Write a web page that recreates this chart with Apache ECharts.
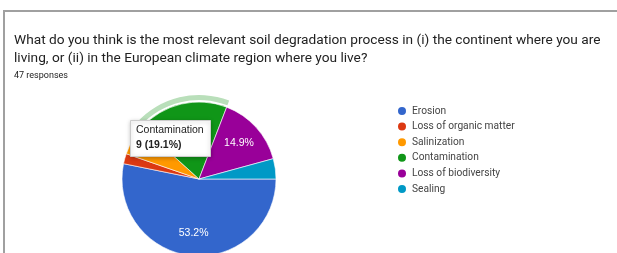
<!DOCTYPE html>
<html>
<head>
<meta charset="utf-8">
<script src="https://cdn.jsdelivr.net/npm/echarts@6/dist/echarts.min.js"></script>
<style>
  html, body { margin: 0; padding: 0; background: #fff; }
  #frame { position: absolute; left: 3px; top: 10px; width: 700px; height: 300px;
           border-top: 2px solid #a0a0a0; border-left: 2px solid #a0a0a0; }
  #main { position: absolute; left: 0; top: 0; width: 617px; height: 253px; }
</style>
</head>
<body>
<div id="frame"></div>
<div id="main"></div>
<script>
var categories = ['Erosion', 'Loss of organic matter', 'Salinization', 'Contamination', 'Loss of biodiversity', 'Sealing'];
var counts = [25, 1, 3, 9, 7, 2];
var colors = ['#3366cc', '#dc3912', '#ff9900', '#109618', '#990099', '#0099c6'];
var highlighted = 'Contamination';

var total = counts.reduce(function (a, b) { return a + b; }, 0);
var hiIdx = categories.indexOf(highlighted);
var hiText = counts[hiIdx] + ' (' + (counts[hiIdx] / total * 100).toFixed(1) + '%)';

var cx = 199, cy = 179, R = 77;

// mid angle of each slice, measured clockwise from 3 o'clock
var midAngles = [];
var acc = 0;
for (var i = 0; i < counts.length; i++) {
    midAngles.push((acc + counts[i] / 2) / total * 2 * Math.PI);
    acc += counts[i];
}

var myChart = echarts.init(document.getElementById('main'));

var pieData = categories.map(function (c, i) {
    var pct = counts[i] / total * 100;
    return {
        name: c,
        value: counts[i],
        itemStyle: { color: colors[i] },
        label: { show: pct >= 10 && c !== highlighted }
    };
});
var haloData = categories.map(function (c, i) {
    return {
        name: c,
        value: counts[i],
        itemStyle: { color: c === highlighted ? '#b9dfba' : 'rgba(0,0,0,0)' }
    };
});

option = {
    backgroundColor: 'transparent',
    animation: false,
    title: {
        text: 'What do you think is the most relevant soil degradation process in (i) the continent where you are\nliving, or (ii) in the European climate region where you live?',
        subtext: total + ' responses',
        left: 9,
        top: 26,
        itemGap: 3,
        textStyle: { fontFamily: 'Roboto', fontSize: 13.7, fontWeight: 'normal', color: '#222', lineHeight: 18.5 },
        subtextStyle: { fontFamily: 'Roboto', fontSize: 9, color: '#222' }
    },
    legend: {
        orient: 'vertical',
        left: 391,
        top: 100,
        itemWidth: 10,
        itemHeight: 10,
        itemGap: 3.6,
        itemTextGap: 5,
        icon: 'circle',
        data: categories,
        textStyle: { fontFamily: 'Roboto', fontSize: 10.2, color: '#444' }
    },
    series: [
        {
            name: 'responses',
            type: 'pie',
            center: [cx, cy],
            radius: [0, R],
            startAngle: 0,
            clockwise: true,
            itemStyle: { borderColor: '#fff', borderWidth: 0.6 },
            label: {
                position: 'inside',
                formatter: function (p) { return p.percent.toFixed(1) + '%'; },
                color: '#fff',
                fontFamily: 'Arial',
                fontSize: 10.5
            },
            labelLine: { show: false },
            labelLayout: function (params) {
                var a = midAngles[params.dataIndex];
                return {
                    x: cx + Math.cos(a) * R * 0.7,
                    y: cy + Math.sin(a) * R * 0.7,
                    align: 'center',
                    verticalAlign: 'middle'
                };
            },
            data: pieData
        },
        {
            type: 'pie',
            center: [cx, cy],
            radius: [79, 84],
            startAngle: 0,
            clockwise: true,
            silent: true,
            legendHoverLink: false,
            label: { show: false },
            labelLine: { show: false },
            data: haloData
        }
    ],
    graphic: [
        {
            type: 'rect',
            left: 130,
            top: 120,
            z: 100,
            zlevel: 1,
            shape: { x: 0, y: 0, width: 80, height: 36 },
            style: { fill: '#fff', stroke: '#ccc', lineWidth: 1, shadowBlur: 4, shadowColor: 'rgba(0,0,0,0.25)', shadowOffsetY: 1 }
        },
        {
            type: 'text',
            left: 136,
            top: 125,
            z: 101,
            zlevel: 1,
            style: { text: highlighted, fontFamily: 'Arial', fontSize: 10.5, fill: '#222' }
        },
        {
            type: 'text',
            left: 136,
            top: 140,
            z: 101,
            zlevel: 1,
            style: { text: hiText, fontFamily: 'Arial', fontSize: 10.5, fontWeight: 'bold', fill: '#222' }
        }
    ]
};
myChart.setOption(option);
</script>
</body>
</html>
